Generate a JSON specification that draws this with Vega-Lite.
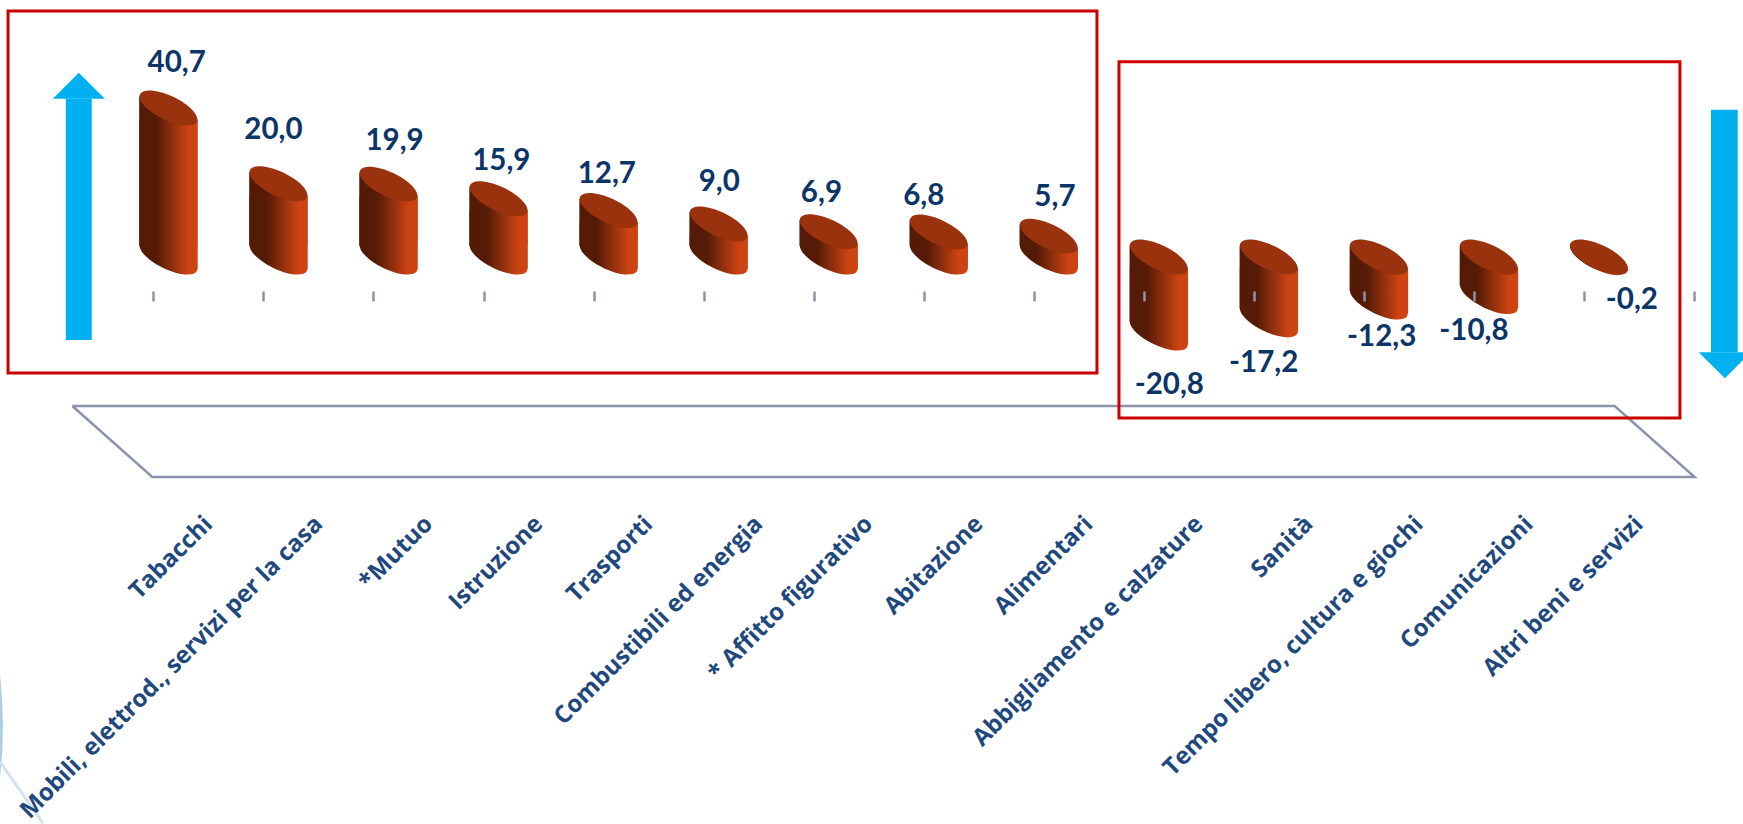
{
"$schema":"https://vega.github.io/schema/vega-lite/v6.json",
"width":1743,"height":824,"autosize":{"type":"none"},"padding":0,"background":"white",
"config":{"view":{"stroke":null}},
"datasets":{
"dati":[
{"voce":"Tabacchi","valore":40.7},
{"voce":"Mobili, elettrod., servizi per la casa","valore":20.0},
{"voce":"*Mutuo","valore":19.9},
{"voce":"Istruzione","valore":15.9},
{"voce":"Trasporti","valore":12.7},
{"voce":"Combustibili ed energia","valore":9.0},
{"voce":"* Affitto figurativo","valore":6.9},
{"voce":"Abitazione","valore":6.8},
{"voce":"Alimentari","valore":5.7},
{"voce":"Abbigliamento e calzature","valore":-20.8},
{"voce":"Sanità","valore":-17.2},
{"voce":"Tempo libero, cultura e giochi","valore":-12.3},
{"voce":"Comunicazioni","valore":-10.8},
{"voce":"Altri beni e servizi","valore":-0.2}
],
"etichette":[
{"testo":"40,7","t":0.212,"v":53.0},
{"testo":"20,0","t":1.091,"v":34.6},
{"testo":"19,9","t":2.192,"v":31.6},
{"testo":"15,9","t":3.162,"v":26.1},
{"testo":"12,7","t":4.121,"v":22.7},
{"testo":"9,0","t":5.142,"v":20.6},
{"testo":"6,9","t":6.071,"v":17.6},
{"testo":"6,8","t":7.001,"v":16.7},
{"testo":"5,7","t":8.193,"v":16.4},
{"testo":"-20,8","t":9.233,"v":-34.9},
{"testo":"-17,2","t":10.09,"v":-29.1},
{"testo":"-12,3","t":11.163,"v":-21.8},
{"testo":"-10,8","t":12.001,"v":-20.3},
{"testo":"-0,2","t":13.436,"v":-11.8}
],
"riquadri":[
{"t1":-1.321,"t2":8.575,"v1":67.2,"v2":-31.7},
{"t1":8.775,"t2":13.873,"v1":53.3,"v2":-44.0}
],
"piano":[
{"n":1,"t":-0.737,"v":-40.7},
{"n":2,"t":13.28,"v":-40.7},
{"n":3,"t":14.006,"v":-60.1},
{"n":4,"t":-0.01,"v":-60.1},
{"n":5,"t":-0.737,"v":-40.7}
],
"frecceAste":[
{"t1":-0.796,"t2":-0.56,"v1":43.2,"v2":-22.7},
{"t1":14.155,"t2":14.398,"v1":40.2,"v2":-26.0}
],
"frecceTeste":[
{"id":"su","t":-0.914,"a":43.2,"b":43.2},
{"id":"su","t":-0.678,"a":50.3,"b":43.2},
{"id":"su","t":-0.441,"a":43.2,"b":43.2},
{"id":"giu","t":14.043,"a":-26.0,"b":-26.0},
{"id":"giu","t":14.282,"a":-33.1,"b":-26.0},
{"id":"giu","t":14.518,"a":-26.0,"b":-26.0}
],
"sfondoArco":[
{"t1":-1.394,"t2":-1.394,"v":-113.7},
{"t1":-1.394,"t2":-1.376,"v":-121},
{"t1":-1.394,"t2":-1.367,"v":-127.3},
{"t1":-1.394,"t2":-1.373,"v":-134.7},
{"t1":-1.394,"t2":-1.394,"v":-142.1}
],
"sfondoLinea":[
{"t":-1.394,"v":-137.9},
{"t":-1.003,"v":-154.7}
]
},
"resolve":{"scale":{"x":"independent"},"axis":{"x":"independent"}},
"layer":[
{"layer":[
{"data":{"name":"sfondoArco"},"mark":{"type":"area","orient":"horizontal","color":"#a9cfe0"},
"encoding":{"x":{"field":"t1","type":"quantitative","axis":null,"scale":{"domain":[-1.394,14.446],"nice":false,"zero":false}},"x2":{"field":"t2"},"y":{"field":"v","type":"quantitative","axis":null,"scale":{"domain":[-154.9,70.2],"nice":false,"zero":false}}}},
{"data":{"name":"sfondoLinea"},"mark":{"type":"line","color":"#d0e3ee","strokeWidth":3},
"encoding":{"x":{"field":"t","type":"quantitative","axis":null,"scale":{"domain":[-1.394,14.446],"nice":false,"zero":false}},"y":{"field":"v","type":"quantitative","axis":null,"scale":{"domain":[-154.9,70.2],"nice":false,"zero":false}}}},
{"data":{"name":"piano"},"mark":{"type":"line","color":"#8d93ad","strokeWidth":2.5},
"encoding":{"x":{"field":"t","type":"quantitative","axis":null,"scale":{"domain":[-1.394,14.446],"nice":false,"zero":false}},"y":{"field":"v","type":"quantitative","axis":null,"scale":{"domain":[-154.9,70.2],"nice":false,"zero":false}},"order":{"field":"n","type":"quantitative"}}},
{"data":{"name":"frecceAste"},"mark":{"type":"rect","color":"#00b0f0"},
"encoding":{"x":{"field":"t1","type":"quantitative","axis":null,"scale":{"domain":[-1.394,14.446],"nice":false,"zero":false}},"x2":{"field":"t2"},"y":{"field":"v1","type":"quantitative","axis":null,"scale":{"domain":[-154.9,70.2],"nice":false,"zero":false}},"y2":{"field":"v2"}}},
{"data":{"name":"frecceTeste"},"mark":{"type":"area","color":"#00b0f0"},
"encoding":{"x":{"field":"t","type":"quantitative","axis":null,"scale":{"domain":[-1.394,14.446],"nice":false,"zero":false}},"y":{"field":"a","type":"quantitative","axis":null,"scale":{"domain":[-154.9,70.2],"nice":false,"zero":false}},"y2":{"field":"b"},"detail":{"field":"id"}}}
]},
{"data":{"name":"dati"},"resolve":{"axis":{"x":"independent"}},"layer":[
{"mark":{"type":"bar","width":29.5,"xOffset":-54.5,"yOffset":-11.5,"y2Offset":-11.5,"fill":{"gradient":"linear","x1":0,"x2":1,"y1":0,"y2":0,"stops":[{"offset":0,"color":"#531a06"},{"offset":0.6,"color":"#561b07"},{"offset":1,"color":"#812a0b"}]}},
"encoding":{"x":{"field":"voce","type":"nominal","sort":null,"axis":{"domain":false,"tickBand":"extent","ticks":true,"tickSize":10,"tickWidth":2.5,"tickColor":"#8d93ad","offset":-533,"labelAngle":-45,"labelAlign":"right","labelBaseline":"middle","labelPadding":219,"labelFont":"Open Sans","labelFontWeight":"bold","labelFontSize":24,"labelColor":"#1f497d","labelLimit":800,"labelOverlap":false,"labelBound":false,"labelFlush":false,"title":null,"grid":false,"zindex":1},"scale":{"range":[153.4,1694],"paddingInner":0,"paddingOuter":0}},"y":{"field":"valore","type":"quantitative","axis":null,"scale":{"domain":[-154.9,70.2],"nice":false,"zero":false}},"y2":{"datum":0}}},
{"mark":{"type":"bar","width":29.5,"xOffset":-25.5,"yOffset":11.5,"y2Offset":11.5,"fill":{"gradient":"linear","x1":0,"x2":1,"y1":0,"y2":0,"stops":[{"offset":0,"color":"#812a0b"},{"offset":0.7,"color":"#cd4412"},{"offset":1,"color":"#cd4412"}]}},
"encoding":{"x":{"field":"voce","type":"nominal","sort":null,"axis":null,"scale":{"range":[153.4,1694],"paddingInner":0,"paddingOuter":0}},"y":{"field":"valore","type":"quantitative","axis":null,"scale":{"domain":[-154.9,70.2],"nice":false,"zero":false}},"y2":{"datum":0}}},
{"transform":[{"filter":"datum.valore > 8"}],"mark":{"type":"bar","width":58,"xOffset":-40,"yOffset":11.5,"y2Offset":-11.5,"fill":{"gradient":"linear","x1":0,"x2":1,"y1":0,"y2":0,"stops":[{"offset":0,"color":"#531a06"},{"offset":0.3,"color":"#561b07"},{"offset":0.5,"color":"#812a0b"},{"offset":0.85,"color":"#cd4412"},{"offset":1,"color":"#cd4412"}]}},
"encoding":{"x":{"field":"voce","type":"nominal","sort":null,"axis":null,"scale":{"range":[153.4,1694],"paddingInner":0,"paddingOuter":0}},"y":{"field":"valore","type":"quantitative","axis":null,"scale":{"domain":[-154.9,70.2],"nice":false,"zero":false}},"y2":{"datum":0}}},
{"transform":[{"filter":"datum.valore < -8"}],"mark":{"type":"bar","width":58,"xOffset":-40,"yOffset":-11.5,"y2Offset":11.5,"fill":{"gradient":"linear","x1":0,"x2":1,"y1":0,"y2":0,"stops":[{"offset":0,"color":"#531a06"},{"offset":0.3,"color":"#561b07"},{"offset":0.5,"color":"#812a0b"},{"offset":0.85,"color":"#cd4412"},{"offset":1,"color":"#cd4412"}]}},
"encoding":{"x":{"field":"voce","type":"nominal","sort":null,"axis":null,"scale":{"range":[153.4,1694],"paddingInner":0,"paddingOuter":0}},"y":{"field":"valore","type":"quantitative","axis":null,"scale":{"domain":[-154.9,70.2],"nice":false,"zero":false}},"y2":{"datum":0}}},
{"transform":[{"filter":"datum.valore > 0"}],"mark":{"type":"point","filled":true,"opacity":1,"strokeWidth":0,"size":3364,"xOffset":-40,"shape":"M -0.983 -0.471 A 1.09 0.417 25.6 1 1 0.983 0.471 A 1.09 0.417 25.6 1 1 -0.983 -0.471 Z","fill":{"gradient":"linear","x1":0,"x2":1,"y1":0,"y2":0,"stops":[{"offset":0,"color":"#531a06"},{"offset":0.3,"color":"#561b07"},{"offset":0.5,"color":"#812a0b"},{"offset":0.85,"color":"#cd4412"},{"offset":1,"color":"#cd4412"}]}},
"encoding":{"x":{"field":"voce","type":"nominal","sort":null,"axis":null,"scale":{"range":[153.4,1694],"paddingInner":0,"paddingOuter":0}},"y":{"datum":0,"type":"quantitative","axis":null,"scale":{"domain":[-154.9,70.2],"nice":false,"zero":false}}}},
{"transform":[{"filter":"datum.valore < 0"}],"mark":{"type":"point","filled":true,"opacity":1,"strokeWidth":0,"size":3364,"xOffset":-40,"shape":"M -0.983 -0.471 A 1.09 0.417 25.6 1 1 0.983 0.471 A 1.09 0.417 25.6 1 1 -0.983 -0.471 Z","fill":{"gradient":"linear","x1":0,"x2":1,"y1":0,"y2":0,"stops":[{"offset":0,"color":"#531a06"},{"offset":0.3,"color":"#561b07"},{"offset":0.5,"color":"#812a0b"},{"offset":0.85,"color":"#cd4412"},{"offset":1,"color":"#cd4412"}]}},
"encoding":{"x":{"field":"voce","type":"nominal","sort":null,"axis":null,"scale":{"range":[153.4,1694],"paddingInner":0,"paddingOuter":0}},"y":{"field":"valore","type":"quantitative","axis":null,"scale":{"domain":[-154.9,70.2],"nice":false,"zero":false}}}},
{"transform":[{"filter":"datum.valore > 0"}],"mark":{"type":"point","filled":true,"opacity":1,"strokeWidth":0,"size":3364,"xOffset":-40,"fill":"#9a320e","shape":"M -0.983 -0.471 A 1.09 0.417 25.6 1 1 0.983 0.471 A 1.09 0.417 25.6 1 1 -0.983 -0.471 Z"},
"encoding":{"x":{"field":"voce","type":"nominal","sort":null,"axis":null,"scale":{"range":[153.4,1694],"paddingInner":0,"paddingOuter":0}},"y":{"field":"valore","type":"quantitative","axis":null,"scale":{"domain":[-154.9,70.2],"nice":false,"zero":false}}}},
{"transform":[{"filter":"datum.valore < 0"}],"mark":{"type":"point","filled":true,"opacity":1,"strokeWidth":0,"size":3364,"xOffset":-40,"fill":"#9a320e","shape":"M -0.983 -0.471 A 1.09 0.417 25.6 1 1 0.983 0.471 A 1.09 0.417 25.6 1 1 -0.983 -0.471 Z"},
"encoding":{"x":{"field":"voce","type":"nominal","sort":null,"axis":null,"scale":{"range":[153.4,1694],"paddingInner":0,"paddingOuter":0}},"y":{"datum":0,"type":"quantitative","axis":null,"scale":{"domain":[-154.9,70.2],"nice":false,"zero":false}}}}
]},
{"layer":[
{"data":{"name":"riquadri"},"mark":{"type":"rect","filled":false,"stroke":"#cc0000","strokeWidth":3,"fill":null},
"encoding":{"x":{"field":"t1","type":"quantitative","axis":null,"scale":{"domain":[-1.394,14.446],"nice":false,"zero":false}},"x2":{"field":"t2"},"y":{"field":"v1","type":"quantitative","axis":null,"scale":{"domain":[-154.9,70.2],"nice":false,"zero":false}},"y2":{"field":"v2"}}},
{"data":{"name":"etichette"},"mark":{"type":"text","font":"Lato","fontWeight":"bold","fontSize":29.5,"color":"#0b3566","align":"center","baseline":"middle"},
"encoding":{"x":{"field":"t","type":"quantitative","axis":null,"scale":{"domain":[-1.394,14.446],"nice":false,"zero":false}},"y":{"field":"v","type":"quantitative","axis":null,"scale":{"domain":[-154.9,70.2],"nice":false,"zero":false}},"text":{"field":"testo"}}}
]}
]
}
